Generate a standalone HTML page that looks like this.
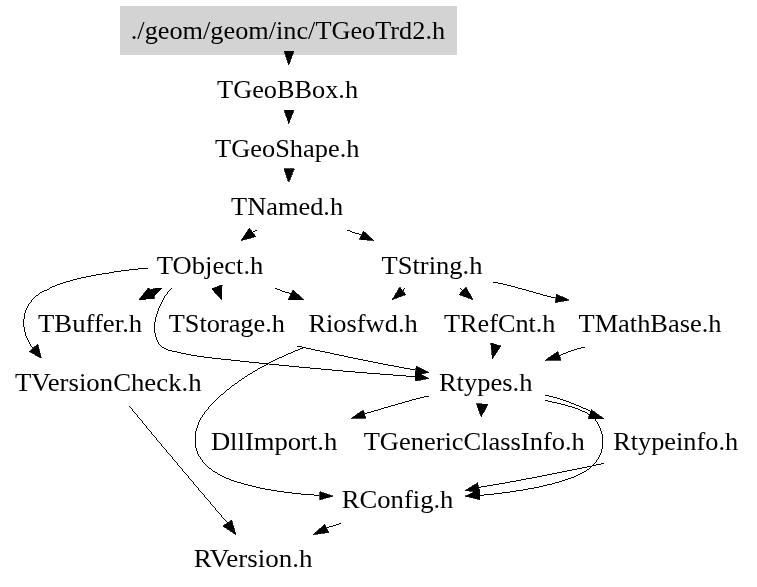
<!DOCTYPE html>
<html><head><meta charset="utf-8">
<style>
html,body{margin:0;padding:0;background:#fff;}
body{width:757px;height:587px;overflow:hidden;}
svg{display:block;will-change:transform;opacity:0.999;}
text{font-family:"Liberation Serif",serif;font-size:26px;fill:#000;}
.e{fill:none;stroke:#000;stroke-width:0.99;}
.a{fill:#000;stroke:#000;stroke-width:0.7;stroke-linejoin:miter;}
</style></head><body>
<svg width="757" height="587" viewBox="0 0 757 587">
<rect x="0" y="0" width="757" height="587" fill="#fff"/>
<rect x="120" y="6" width="337" height="49" fill="#d3d3d3"/>
<g id="labels">
<text x="130.8" y="39.2" textLength="314.3" lengthAdjust="spacingAndGlyphs">./geom/geom/inc/TGeoTrd2.h</text>
<text x="217.1" y="97.9" textLength="141.0" lengthAdjust="spacingAndGlyphs">TGeoBBox.h</text>
<text x="215.1" y="156.5" textLength="144.4" lengthAdjust="spacingAndGlyphs">TGeoShape.h</text>
<text x="231.1" y="215.1" textLength="112.0" lengthAdjust="spacingAndGlyphs">TNamed.h</text>
<text x="156.8" y="273.7" textLength="106.6" lengthAdjust="spacingAndGlyphs">TObject.h</text>
<text x="381.5" y="273.7" textLength="100.9" lengthAdjust="spacingAndGlyphs">TString.h</text>
<text x="38.0" y="332.3" textLength="104.2" lengthAdjust="spacingAndGlyphs">TBuffer.h</text>
<text x="168.7" y="332.3" textLength="116.2" lengthAdjust="spacingAndGlyphs">TStorage.h</text>
<text x="308.4" y="332.3" textLength="109.3" lengthAdjust="spacingAndGlyphs">Riosfwd.h</text>
<text x="444.0" y="332.3" textLength="111.5" lengthAdjust="spacingAndGlyphs">TRefCnt.h</text>
<text x="578.5" y="332.3" textLength="143.0" lengthAdjust="spacingAndGlyphs">TMathBase.h</text>
<text x="15.0" y="390.9" textLength="186.6" lengthAdjust="spacingAndGlyphs">TVersionCheck.h</text>
<text x="438.9" y="390.9" textLength="93.5" lengthAdjust="spacingAndGlyphs">Rtypes.h</text>
<text x="210.9" y="449.5" textLength="126.4" lengthAdjust="spacingAndGlyphs">DllImport.h</text>
<text x="363.7" y="449.5" textLength="221.1" lengthAdjust="spacingAndGlyphs">TGenericClassInfo.h</text>
<text x="613.2" y="449.5" textLength="125.0" lengthAdjust="spacingAndGlyphs">Rtypeinfo.h</text>
<text x="341.8" y="507.8" textLength="111.6" lengthAdjust="spacingAndGlyphs">RConfig.h</text>
<text x="193.8" y="566.7" textLength="118.6" lengthAdjust="spacingAndGlyphs">RVersion.h</text>
</g>
<g id="edges" shape-rendering="crispEdges">
<!-- vertical chain -->
<polygon class="a" points="284,51 294,51 288.8,64.8"/>
<polygon class="a" points="284,110 294,110 288.8,123.5"/>
<polygon class="a" points="284,168.5 294,168.5 288.8,182.3"/>
<!-- TNamed -> TObject -->
<path class="e" d="M257,230.3 L252.6,232.3"/>
<polygon class="a" points="249.4,228 255.8,236.6 241,240.6"/>
<!-- TNamed -> TString -->
<path class="e" d="M347,230 C352,232 356,233.5 361.2,234.5"/>
<polygon class="a" points="363.4,231 359.2,239.4 373.8,240.6"/>
<!-- TObject -> TVersionCheck -->
<path class="e" d="M148,268 C120,270.5 70,277 44.5,290.5 C21,303 18,328 32.6,348"/>
<polygon class="a" points="37.7,344.1 29.4,351.6 41.4,358.4"/>
<!-- TObject -> TBuffer (double) -->
<polygon class="a" points="139,299.6 148.4,287.8 150.5,290 151.5,289 158,288 162,288 154,296.5 154,298.8 146,298.8 145.6,299.6"/>
<!-- TObject -> TStorage -->
<polygon class="a" points="211.5,288.8 222,284.5 221.5,299.6"/>
<!-- TObject -> Riosfwd -->
<path class="e" d="M275,288 C280,290.5 285,292 290.6,293.8"/>
<polygon class="a" points="293,290 288,299.6 303.6,299.6"/>
<!-- TObject -> Rtypes -->
<path class="e" d="M171.5,288 C162,298 152.5,318 155,333 C157,344 160.5,348 170,350.5 C180,353 190,355 200,356.6 C260,363.5 340,371.5 415,376.6"/>
<polygon class="a" points="415.3,371.5 415.3,381 429,378.4"/>
<!-- Riosfwd -> Rtypes -->
<path class="e" d="M297,346 C320,351 370,362 415.4,370"/>
<polygon class="a" points="416.2,366 415,375.5 429,372.3"/>
<!-- Riosfwd -> RConfig -->
<path class="e" d="M304.3,347.5 C259,364.3 214,394 200,420 C186.5,448 201,470 235,481.3 C260,489.6 290,493.7 319.4,495.4"/>
<polygon class="a" points="319.9,491.7 319.9,499.7 333.2,496.2"/>
<!-- TString -> Riosfwd -->
<path class="e" d="M404.8,288.2 L402.8,290.9"/>
<polygon class="a" points="399.8,287.2 405.8,294.6 392.2,299.7"/>
<!-- TString -> TRefCnt -->
<path class="e" d="M459.9,288.2 L462.5,291"/>
<polygon class="a" points="465.9,287.2 459,294.6 473.1,299.7"/>
<!-- TString -> TMathBase -->
<path class="e" d="M493,282 C510,285 535,293 555.3,298.2"/>
<polygon class="a" points="556.4,294.1 555.3,302.5 569.1,300.1"/>
<!-- TRefCnt -> Rtypes -->
<polygon class="a" points="490.8,342.9 500.9,346.1 492.4,358.8"/>
<!-- TMathBase -> Rtypes -->
<path class="e" d="M584.6,347 C575,349 568,352 559.3,355.6"/>
<polygon class="a" points="557.7,351.6 561.2,360.4 545,360.4"/>
<!-- Rtypes -> DllImport -->
<path class="e" d="M428.8,396 C410,400 385,408 365.4,413.5"/>
<polygon class="a" points="363.3,410 365.8,418.4 351,418.4"/>
<!-- Rtypes -> TGenericClassInfo -->
<polygon class="a" points="476.3,403.6 488,404.4 481.2,416.7"/>
<!-- Rtypes -> Rtypeinfo -->
<path class="e" d="M544.8,395 C560,398 575,404 590.8,411.4"/>
<polygon class="a" points="591.4,409.8 588.1,418.7 604,418.7"/>
<!-- Rtypes -> RConfig -->
<path class="e" d="M544.8,400.2 C565,405 590,410 597,422 C605.5,436 605.5,452 593,465.5 C579,480.5 530,491 479.7,495.4"/>
<polygon class="a" points="479.7,489.3 479.7,499.6 465.1,496.2"/>
<!-- Rtypeinfo -> RConfig -->
<path class="e" d="M603.7,463.5 C560,472.5 520,480.8 479.3,487.3"/>
<polygon class="a" points="477.6,482.9 479.7,492.4 465.1,490.5"/>
<!-- TVersionCheck -> RVersion -->
<path class="e" d="M129.2,406 C160,443.5 195,485 227.5,523"/>
<polygon class="a" points="231.7,520.2 222.8,526.1 235.9,534.6"/>
<!-- RConfig -> RVersion -->
<path class="e" d="M341.2,523.4 L326.8,527.8"/>
<polygon class="a" points="324.7,524.4 328.9,532.5 313.1,534.6"/>
</g>
</svg>
</body></html>
